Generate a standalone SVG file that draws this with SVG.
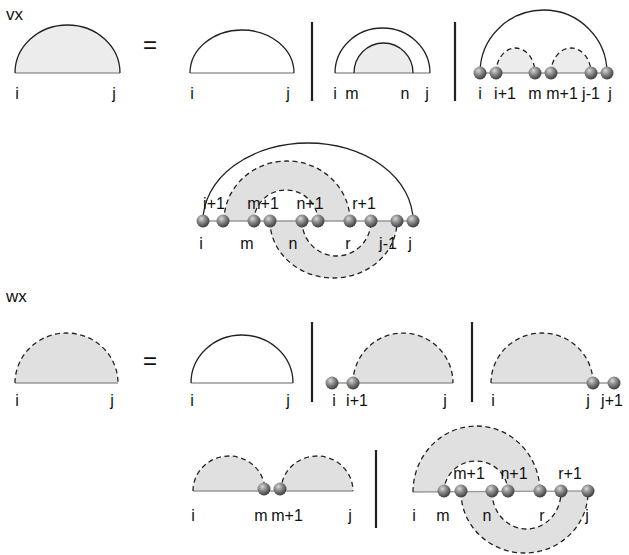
<svg xmlns="http://www.w3.org/2000/svg" width="629" height="555" viewBox="0 0 629 555">
<defs>
<radialGradient id="bead" cx="0.38" cy="0.32" r="0.7">
<stop offset="0" stop-color="#d8d8d8"/>
<stop offset="0.45" stop-color="#8a8a8a"/>
<stop offset="1" stop-color="#3a3a3a"/>
</radialGradient>
<symbol id="b" overflow="visible"><circle cx="0" cy="0" r="6.5" fill="url(#bead)"/></symbol>
</defs>
<style>
text{font-family:"Liberation Sans",Arial,sans-serif;font-size:16px;fill:#111;text-anchor:middle}
.t{font-size:17px;text-anchor:start}
.eq{font-size:24px}
.base{stroke:#9a9a9a;stroke-width:1.3;fill:none}
.arc{stroke:#222;stroke-width:1.3;fill:none}
.dash{stroke:#222;stroke-width:1.3;fill:none;stroke-dasharray:5 3.5}
.f1{fill:#ececec;stroke:none}
.f2{fill:#e0e0e0;stroke:none}
.bar{stroke:#222;stroke-width:2.2}
</style>

<text class="t" x="6" y="20">vx</text>
<text class="t" x="6" y="302">wx</text>
<text class="eq" x="150" y="53">=</text>
<text class="eq" x="150" y="369">=</text>

<g id="bars">
<line class="bar" x1="312" y1="22" x2="312" y2="101"/>
<line class="bar" x1="455" y1="22" x2="455" y2="101"/>
<line class="bar" x1="312" y1="322" x2="312" y2="402"/>
<line class="bar" x1="472" y1="322" x2="472" y2="402"/>
<line class="bar" x1="376" y1="450" x2="376" y2="528"/>
</g>

<!-- Row 1 -->
<g id="vx_lhs">
<path class="f1" d="M15,73 A52.5,48 0 0 1 120,73 Z"/>
<line class="base" x1="15" y1="73" x2="120" y2="73"/>
<path class="arc" d="M15,73 A52.5,48 0 0 1 120,73"/>
<text x="17" y="99">i</text><text x="114" y="99">j</text>
</g>
<g id="vx_t1">
<line class="base" x1="190" y1="73" x2="294" y2="73"/>
<path class="arc" d="M190,73 A52,43 0 0 1 294,73"/>
<text x="192" y="99">i</text><text x="288" y="99">j</text>
</g>
<g id="vx_t2">
<path class="f1" d="M354,73 A29.5,30 0 0 1 413,73 Z"/>
<line class="base" x1="335" y1="73" x2="430" y2="73"/>
<path class="arc" d="M335,73 A47.5,45 0 0 1 430,73"/>
<path class="arc" d="M354,73 A29.5,30 0 0 1 413,73"/>
<text x="335" y="99">i</text><text x="352" y="99">m</text><text x="405" y="99">n</text><text x="427" y="99">j</text>
</g>
<g id="vx_t3">
<path class="f1" d="M496,73 A19.5,25 0 0 1 535,73 Z"/>
<path class="f1" d="M551,73 A20,25 0 0 1 591,73 Z"/>
<line class="base" x1="480" y1="73" x2="607" y2="73"/>
<path class="arc" d="M480,73 A63.5,63 0 0 1 607,73"/>
<path class="dash" d="M496,73 A19.5,25 0 0 1 535,73"/>
<path class="dash" d="M551,73 A20,25 0 0 1 591,73"/>
<use href="#b" x="480" y="73"/><use href="#b" x="496" y="73"/><use href="#b" x="535" y="73"/>
<use href="#b" x="551" y="73"/><use href="#b" x="591" y="73"/><use href="#b" x="607" y="73"/>
<text x="480" y="99">i</text><text x="505" y="99">i+1</text><text x="535" y="99">m</text>
<text x="562" y="99">m+1</text><text x="591" y="99">j-1</text><text x="610" y="99">j</text>
</g>

<!-- Row 2 -->
<g id="vx_t4">
<path class="f2" d="M224,221 A63,60 0 0 1 350,221 L318,221 A32,31 0 0 0 254,221 Z"/>
<path class="f2" d="M270,221 A63.5,57 0 0 0 397,221 L371,221 A34.5,35 0 0 1 302,221 Z"/>
<line class="base" x1="203" y1="221" x2="413" y2="221"/>
<path class="arc" d="M203,221 A105,78 0 0 1 413,221"/>
<path class="dash" d="M224,221 A63,60 0 0 1 350,221"/>
<path class="dash" d="M254,221 A32,31 0 0 1 318,221"/>
<path class="dash" d="M270,221 A63.5,57 0 0 0 397,221"/>
<path class="dash" d="M302,221 A34.5,35 0 0 0 371,221"/>
<use href="#b" x="203" y="221"/><use href="#b" x="223" y="221"/><use href="#b" x="254" y="221"/>
<use href="#b" x="270" y="221"/><use href="#b" x="302" y="221"/><use href="#b" x="318" y="221"/>
<use href="#b" x="350" y="221"/><use href="#b" x="371" y="221"/><use href="#b" x="397" y="221"/>
<use href="#b" x="413" y="221"/>
<text x="214" y="209">i+1</text><text x="263" y="209">m+1</text><text x="310" y="209">n+1</text><text x="364" y="209">r+1</text>
<text x="201" y="249">i</text><text x="247" y="249">m</text><text x="293" y="249">n</text>
<text x="348" y="249">r</text><text x="388" y="249">j-1</text><text x="410" y="249">j</text>
</g>

<!-- Row 3 -->
<g id="wx_lhs">
<path class="f2" d="M15,383 A51.5,50 0 0 1 118,383 Z"/>
<line class="base" x1="15" y1="383" x2="118" y2="383"/>
<path class="dash" d="M15,383 A51.5,50 0 0 1 118,383"/>
<text x="17" y="406">i</text><text x="112" y="406">j</text>
</g>
<g id="wx_t1">
<line class="base" x1="191" y1="383" x2="293" y2="383"/>
<path class="arc" d="M191,383 A51,48 0 0 1 293,383"/>
<text x="192" y="406">i</text><text x="288" y="406">j</text>
</g>
<g id="wx_t2">
<path class="f2" d="M353,383 A50,50 0 0 1 453,383 Z"/>
<line class="base" x1="332" y1="383" x2="453" y2="383"/>
<path class="dash" d="M353,383 A50,50 0 0 1 453,383"/>
<use href="#b" x="332" y="383"/><use href="#b" x="353" y="383"/>
<text x="334" y="406">i</text><text x="357" y="406">i+1</text><text x="445" y="406">j</text>
</g>
<g id="wx_t3">
<path class="f2" d="M491,383 A51,50 0 0 1 593,383 Z"/>
<line class="base" x1="491" y1="383" x2="614" y2="383"/>
<path class="dash" d="M491,383 A51,50 0 0 1 593,383"/>
<use href="#b" x="593" y="383"/><use href="#b" x="614" y="383"/>
<text x="493" y="406">i</text><text x="588" y="406">j</text><text x="612" y="406">j+1</text>
</g>

<!-- Row 4 -->
<g id="wx_t4">
<path class="f2" d="M193,491 A36,35 0 0 1 265,491 Z"/>
<path class="f2" d="M281,491 A36,35 0 0 1 353,491 Z"/>
<line class="base" x1="193" y1="491" x2="353" y2="491"/>
<path class="dash" d="M193,491 A36,35 0 0 1 265,491"/>
<path class="dash" d="M281,491 A36,35 0 0 1 353,491"/>
<use href="#b" x="264" y="489"/><use href="#b" x="280" y="489"/>
<text x="193" y="521">i</text><text x="261" y="521">m</text><text x="287" y="521">m+1</text><text x="350" y="521">j</text>
</g>
<g id="wx_t5">
<path class="f2" d="M413,492 A63.5,66 0 0 1 540,492 L508,492 A32,31 0 0 0 444,492 Z"/>
<path class="f2" d="M461,492 A63.5,61 0 0 0 588,492 L561,492 A34.5,37 0 0 1 492,492 Z"/>
<line class="base" x1="413" y1="492" x2="588" y2="491"/>
<path class="dash" d="M413,492 A63.5,66 0 0 1 540,492"/>
<path class="dash" d="M444,492 A32,31 0 0 1 508,492"/>
<path class="dash" d="M461,492 A63.5,61 0 0 0 588,492"/>
<path class="dash" d="M492,492 A34.5,37 0 0 0 561,492"/>
<use href="#b" x="444" y="491"/><use href="#b" x="461" y="491"/><use href="#b" x="492" y="491"/>
<use href="#b" x="508" y="491"/><use href="#b" x="540" y="491"/><use href="#b" x="561" y="491"/>
<use href="#b" x="588" y="491"/>
<text x="469" y="479">m+1</text><text x="514" y="479">n+1</text><text x="570" y="479">r+1</text>
<text x="414" y="521">i</text><text x="443" y="521">m</text><text x="487" y="521">n</text>
<text x="542" y="521">r</text><text x="587" y="521">j</text>
</g>
</svg>
